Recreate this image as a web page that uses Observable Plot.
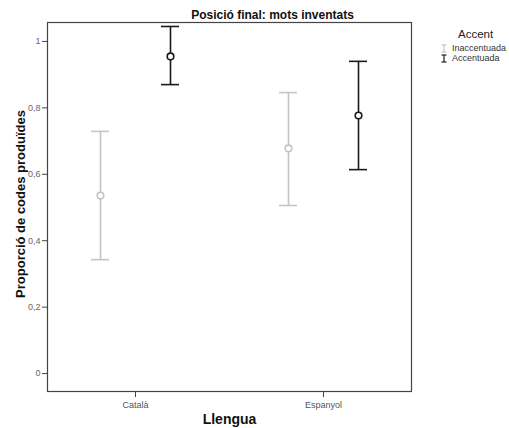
<!DOCTYPE html>
<html>
<head>
<meta charset="utf-8">
<script src="https://cdn.jsdelivr.net/npm/d3@7"></script>
<script src="https://cdn.jsdelivr.net/npm/@observablehq/plot@0.6"></script>
<style>
  html, body { margin: 0; padding: 0; background: #fff; }
  #wrap { position: relative; width: 509px; height: 428px; font-family: "Liberation Sans", Arial, sans-serif; }
  #legend { position: absolute; left: 440px; top: 28px; font-size: 9px; color: #333; }
  #legend .ttl { font-size: 11.5px; margin-left: 18px; margin-bottom: 3px; color: #222; }
  #legend .row { display: flex; align-items: center; height: 10px; }
  #legend svg { margin-right: 4px; }
</style>
</head>
<body>
<div id="wrap"></div>
<script>
const langs = ["Català", "Espanyol"];
const accents = ["Inaccentuada", "Accentuada"];
const accentColors = ["#c4c4c4", "#1a1a1a"];
// per accent, per language
const means = [[0.536, 0.678], [0.955, 0.777]];
const lowers = [[0.343, 0.506], [0.870, 0.614]];
const uppers = [[0.729, 0.846], [1.045, 0.940]];
const yTicks = [0, 0.2, 0.4, 0.6, 0.8, 1];

const rows = [];
accents.forEach((a, i) => langs.forEach((l, j) => rows.push({
  accent: a, lang: l, mean: means[i][j], lo: lowers[i][j], hi: uppers[i][j], color: accentColors[i]
})));

const offsets = [-35, 35];
const marks = [];
accents.forEach((a, i) => {
  const d = rows.filter(r => r.accent === a);
  const dx = offsets[i];
  marks.push(Plot.ruleX(d, {x: "lang", y1: "lo", y2: "hi", dx, stroke: "color", strokeWidth: 1.6}));
  marks.push(Plot.tickY(d, {x: "lang", y: "hi", dx, stroke: "color", strokeWidth: 1.6}));
  marks.push(Plot.tickY(d, {x: "lang", y: "lo", dx, stroke: "color", strokeWidth: 1.6}));
  marks.push(Plot.dot(d, {x: "lang", y: "mean", dx, r: 3.3, stroke: "color", strokeWidth: 1.6, fill: "white"}));
});

const plot = Plot.plot({
  width: 509,
  height: 428,
  marginLeft: 47,
  marginRight: 98,
  marginTop: 22,
  marginBottom: 37,
  style: {fontFamily: "'Liberation Sans', Arial, sans-serif", background: "white"},
  x: {type: "band", domain: langs, paddingInner: 0.904, paddingOuter: 0.42, label: null},
  y: {domain: [-0.054, 1.057], label: null},
  color: {type: "identity"},
  marks: [
    Plot.frame({stroke: "#444", strokeWidth: 1.2}),
    Plot.axisY({ticks: yTicks, tickSize: 5, tickPadding: 2, tickFormat: d => String(d).replace(".", ","), fontSize: 9, color: "#666", stroke: "#444", label: null}),
    Plot.axisX({tickSize: 6, tickPadding: 4, fontSize: 9, color: "#555", stroke: "#444", label: null}),
    ...marks,
    Plot.text(["Posició final: mots inventats"], {frameAnchor: "top", lineAnchor: "middle", dx: 43, dy: -7, fontSize: 12, fontWeight: "bold", fill: "#111"}),
    Plot.text(["Llengua"], {frameAnchor: "bottom", lineAnchor: "middle", dy: 28, fontSize: 14, fontWeight: "bold", fill: "#111"}),
    Plot.text(["Proporció de codes produïdes"], {frameAnchor: "left", textAnchor: "middle", lineAnchor: "middle", dx: -27, dy: -3, rotate: -90, fontSize: 13, fontWeight: "bold", fill: "#111"})
  ]
});

const wrap = document.getElementById("wrap");
wrap.appendChild(plot);

const legend = document.createElement("div");
legend.id = "legend";
let html = `<div class="ttl">Accent</div>`;
accents.forEach((a, i) => {
  const c = accentColors[i];
  html += `<div class="row"><svg width="8" height="9"><line x1="4" y1="1" x2="4" y2="8" stroke="${c}" stroke-width="1.2"/><line x1="1.5" y1="1" x2="6.5" y2="1" stroke="${c}" stroke-width="1.2"/><line x1="1.5" y1="8" x2="6.5" y2="8" stroke="${c}" stroke-width="1.2"/></svg><span>${a}</span></div>`;
});
legend.innerHTML = html;
wrap.appendChild(legend);
</script>
</body>
</html>
